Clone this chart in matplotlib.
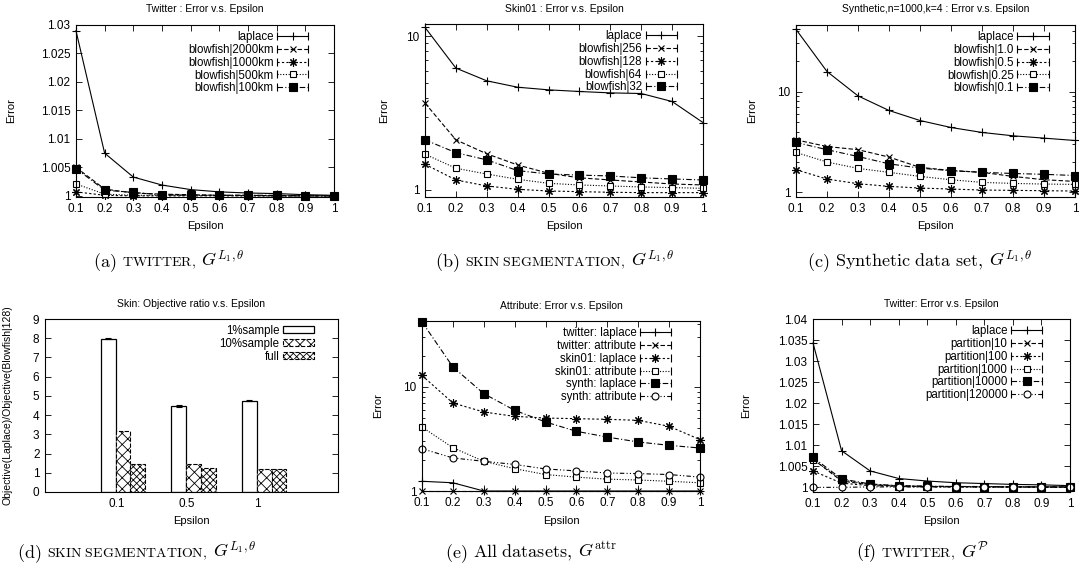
import numpy as np
import matplotlib
matplotlib.use('Agg')
import matplotlib.pyplot as plt
from matplotlib.lines import Line2D
from matplotlib.legend_handler import HandlerLine2D
from matplotlib.ticker import FormatStrFormatter, NullFormatter
from matplotlib.offsetbox import TextArea, HPacker, AnnotationBbox

plt.rcParams['font.family'] = ['Liberation Sans', 'DejaVu Sans']
plt.rcParams['mathtext.fontset'] = 'cm'
plt.rcParams['hatch.linewidth'] = 0.6

eps = [0.1, 0.2, 0.3, 0.4, 0.5, 0.6, 0.7, 0.8, 0.9, 1.0]

# (a) twitter, blowfish
tw_labels = ['laplace', 'blowfish|2000km', 'blowfish|1000km', 'blowfish|500km', 'blowfish|100km']
tw_laplace = [1.0290, 1.0075, 1.0033, 1.0019, 1.0011, 1.0007, 1.0005, 1.0004, 1.0002, 1.0001]
tw_2000 = [1.0050, 1.0012, 1.0005, 1.0003, 1.0002, 1.0001, 1.0001, 1.0000, 1.0000, 1.0000]
tw_1000 = [1.0007, 1.0001, 1.0000, 1.0000, 1.0000, 1.0000, 1.0000, 1.0000, 1.0000, 1.0000]
tw_500 = [1.0021, 1.0003, 1.0001, 1.0001, 1.0001, 1.0001, 1.0000, 1.0000, 1.0000, 1.0000]
tw_100 = [1.0048, 1.0010, 1.0006, 1.0002, 1.0001, 1.0001, 1.0001, 1.0001, 1.0000, 1.0000]

# (b) skin01, blowfish
sk_labels = ['laplace', 'blowfish|256', 'blowfish|128', 'blowfish|64', 'blowfish|32']
sk_laplace = [11.45, 6.22, 5.14, 4.67, 4.49, 4.38, 4.29, 4.25, 3.77, 2.75]
sk_256 = [3.68, 2.12, 1.72, 1.455, 1.284, 1.20, 1.162, 1.127, 1.094, 1.078]
sk_128 = [1.47, 1.162, 1.062, 1.01, 0.985, 0.975, 0.966, 0.961, 0.961, 0.961]
sk_64 = [1.71, 1.385, 1.27, 1.174, 1.105, 1.078, 1.062, 1.046, 1.036, 1.025]
sk_32 = [2.12, 1.75, 1.57, 1.337, 1.27, 1.25, 1.234, 1.20, 1.18, 1.162]

# (c) synthetic, blowfish
sy_labels = ['laplace', 'blowfish|1.0', 'blowfish|0.5', 'blowfish|0.25', 'blowfish|0.1']
sy_laplace = [41.4, 15.8, 9.06, 6.49, 5.16, 4.40, 3.93, 3.64, 3.45, 3.27]
sy_10 = [3.32, 2.85, 2.65, 2.24, 1.77, 1.65, 1.58, 1.44, 1.335, 1.285]
sy_05 = [1.68, 1.355, 1.219, 1.147, 1.104, 1.079, 1.055, 1.047, 1.039, 1.031]
sy_025 = [2.49, 2.00, 1.73, 1.58, 1.44, 1.335, 1.256, 1.228, 1.209, 1.20]
sy_01 = [3.13, 2.65, 2.27, 1.92, 1.74, 1.64, 1.58, 1.54, 1.51, 1.47]

# (d) skin, objective ratio
bar_eps = ['0.1', '0.5', '1']
bar_labels = ['1%sample', '10%sample', 'full']
bar_1pct = [7.98, 4.49, 4.74]
bar_1pct_err = [0.02, 0.05, 0.02]
bar_10pct = [3.17, 1.43, 1.18]
bar_full = [1.43, 1.25, 1.18]

# (e) all datasets, attribute
at_labels = ['twitter: laplace', 'twitter: attribute', 'skin01: laplace',
             'skin01: attribute', 'synth: laplace', 'synth: attribute']
at_tw_laplace = [1.24, 1.20, 1.0, 1.0, 1.0, 1.0, 1.0, 1.0, 1.0, 1.0]
at_tw_attr = [1.0, 1.0, 1.0, 1.0, 1.0, 1.0, 1.0, 1.0, 1.0, 1.0]
at_sk_laplace = [12.9, 7.02, 5.75, 5.22, 5.03, 4.96, 4.89, 4.78, 4.19, 3.12]
at_sk_attr = [4.12, 2.61, 1.93, 1.64, 1.44, 1.36, 1.30, 1.276, 1.24, 1.20]
at_sy_laplace = [42.2, 15.6, 8.63, 5.97, 4.61, 3.75, 3.30, 2.96, 2.75, 2.59]
at_sy_attr = [2.55, 2.08, 1.93, 1.80, 1.63, 1.56, 1.49, 1.47, 1.44, 1.36]

# (f) twitter, partition
pt_labels = ['laplace', 'partition|10', 'partition|100', 'partition|1000',
             'partition|10000', 'partition|120000']
pt_laplace = [1.0343, 1.0087, 1.0039, 1.0021, 1.0015, 1.0011, 1.0009, 1.0007, 1.0006, 1.0004]
pt_10 = [1.0067, 1.0015, 1.0006, 1.0003, 1.0002, 1.0002, 1.0001, 1.0001, 1.0001, 1.0001]
pt_100 = [1.0039, 1.0010, 1.0004, 1.0002, 1.0001, 1.0001, 1.0001, 1.0001, 1.0000, 1.0000]
pt_1000 = [1.0066, 1.0018, 1.0007, 1.0004, 1.0002, 1.0002, 1.0001, 1.0001, 1.0001, 1.0001]
pt_10000 = [1.0071, 1.0020, 1.0008, 1.0004, 1.0003, 1.0002, 1.0002, 1.0001, 1.0001, 1.0001]
pt_120000 = [1.0000, 1.0000, 1.0001, 1.0001, 1.0001, 1.0001, 1.0001, 1.0001, 1.0001, 1.0001]

# gnuplot-like line types
STYLES = [
    dict(ls='-', marker='+', ms=6, mfc='black'),
    dict(ls=(0, (4, 2)), marker='x', ms=5, mfc='black'),
    dict(ls=(0, (2, 2)), marker=(8, 2, 0), ms=6, mfc='black'),
    dict(ls=(0, (1, 1.5)), marker='s', ms=5, mfc='white'),
    dict(ls=(0, (5, 2, 1, 2)), marker='s', ms=6, mfc='black'),
    dict(ls=(0, (4, 2, 1, 2, 1, 2)), marker='o', ms=5, mfc='white'),
]


class CapHandler(HandlerLine2D):
    # legend sample with end caps like gnuplot's errorlines
    def create_artists(self, legend, orig_handle, xdescent, ydescent, width, height, fontsize, trans):
        arts = super().create_artists(legend, orig_handle, xdescent, ydescent, width, height, fontsize, trans)
        y = (height - ydescent) / 2
        caps = Line2D([-xdescent, -xdescent + width], [y, y], ls='none', marker='|',
                      ms=6, mew=0.8, color='black')
        caps.set_transform(trans)
        return arts + [caps]


fig = plt.figure(figsize=(10.79, 5.72), dpi=100)

LEG = dict(loc='upper right', frameon=False, fontsize=8.3, markerfirst=False, handlelength=2.7,
           handletextpad=0.3, labelspacing=0.08, borderpad=0.3, borderaxespad=0.2)


def style_axes(ax, title, ylabel, ylab_x):
    ax.set_title(title, fontsize=7.5, pad=9)
    ax.set_xlabel('Epsilon', fontsize=8, labelpad=5)
    ax.set_ylabel(ylabel, fontsize=8)
    ax.yaxis.set_label_coords(ylab_x, 0.5)
    ax.tick_params(which='both', direction='in', top=True, right=True, width=0.6, labelsize=8.5, pad=4)
    ax.tick_params(which='major', length=4)
    ax.tick_params(which='minor', length=2.5)
    for s in ax.spines.values():
        s.set_linewidth(0.8)


def line_panel(rect, title, labels, series, ylim, ylab_x, leg_x, log=False, yticks=None):
    ax = fig.add_axes(rect)
    for i, (lab, ys) in enumerate(zip(labels, series)):
        ax.plot(eps, ys, color='black', lw=0.8, mew=0.8, label=lab, clip_on=False, **STYLES[i])
    ax.set_xlim(0.1, 1.0)
    ax.set_xticks(eps)
    ax.xaxis.set_major_formatter(FormatStrFormatter('%g'))
    if log:
        ax.set_yscale('log')
        ax.yaxis.set_major_formatter(FormatStrFormatter('%g'))
        ax.yaxis.set_minor_formatter(NullFormatter())
    else:
        ax.set_yticks(yticks)
        ax.yaxis.set_major_formatter(FormatStrFormatter('%g'))
    ax.set_ylim(*ylim)
    style_axes(ax, title, 'Error', ylab_x)
    ax.legend(bbox_to_anchor=(leg_x, 1.0), numpoints=1, handler_map={Line2D: CapHandler()}, **LEG)
    return ax


# top row
line_panel([0.0704, 0.6556, 0.2391, 0.3007], 'Twitter : Error v.s. Epsilon', tw_labels,
           [tw_laplace, tw_2000, tw_1000, tw_500, tw_100], (0.9998, 1.03), -0.23, 0.922,
           yticks=np.arange(1.0, 1.0301, 0.005))
line_panel([0.3939, 0.6556, 0.2576, 0.3024], 'Skin01 : Error v.s. Epsilon', sk_labels,
           [sk_laplace, sk_256, sk_128, sk_64, sk_32], (0.9, 12.05), -0.13, 0.926, log=True)
line_panel([0.7377, 0.6556, 0.2586, 0.3007], 'Synthetic,n=1000,k=4 : Error v.s. Epsilon', sy_labels,
           [sy_laplace, sy_10, sy_05, sy_025, sy_01], (0.9, 45.7), -0.14, 0.926, log=True)

# (d) bars
axd = fig.add_axes([0.0417, 0.1399, 0.2715, 0.3024])
gx = np.arange(len(bar_eps))
w = 0.21
axd.bar(gx - 0.115, bar_1pct, w, yerr=bar_1pct_err, capsize=2, facecolor='white',
        edgecolor='black', lw=0.9, error_kw=dict(lw=0.8, capthick=0.8), label=bar_labels[0])
axd.bar(gx + 0.095, bar_10pct, w, facecolor='white', edgecolor='black', lw=0.8,
        ls='--', hatch='xxx', label=bar_labels[1])
axd.bar(gx + 0.305, bar_full, w, facecolor='white', edgecolor='black', lw=0.8,
        ls='--', hatch='xxxxx', label=bar_labels[2])
axd.set_xlim(-1.01, 3.14)
axd.set_ylim(0, 9)
axd.set_xticks(gx)
axd.set_xticklabels(bar_eps)
axd.set_yticks(range(10))
style_axes(axd, 'Skin: Objective ratio v.s. Epsilon', 'Objective(Laplace)/Objective(Blowfish|128)', -0.11)
axd.yaxis.label.set_fontsize(7.5)
axd.tick_params(axis='x', length=0, top=False)
axd.legend(bbox_to_anchor=(0.938, 1.0), handleheight=0.6, **LEG)

# (e) attribute
line_panel([0.3911, 0.1416, 0.2576, 0.2972], 'Attribute: Error v.s. Epsilon', at_labels,
           [at_tw_laplace, at_tw_attr, at_sk_laplace, at_sk_attr, at_sy_laplace, at_sy_attr],
           (1.0, 43.1), -0.14, 0.916, log=True)

# (f) partition
line_panel([0.7535, 0.1399, 0.2382, 0.3024], 'Twitter: Error v.s. Epsilon', pt_labels,
           [pt_laplace, pt_10, pt_100, pt_1000, pt_10000, pt_120000], (0.9989, 1.04), -0.24, 0.914,
           yticks=np.arange(1.0, 1.0401, 0.005))


# captions, small caps faked with a smaller size
def caption(xc, yc, parts):
    boxes = [TextArea(s, textprops=dict(fontsize=sz)) for s, sz in parts]
    pack = HPacker(children=boxes, align='baseline', pad=0, sep=4)
    ab = AnnotationBbox(pack, (xc, yc), xycoords='figure pixels', frameon=False,
                        box_alignment=(0.5, 0.5))
    fig.add_artist(ab)


H = 572
caption(169, H - 262, [(r'$\mathrm{(a)}$', 13), (r'$\mathrm{TWITTER,}$', 10), (r'$G^{L_1,\theta}$', 13)])
caption(555, H - 262, [(r'$\mathrm{(b)}$', 13), (r'$\mathrm{SKIN\ SEGMENTATION,}$', 10), (r'$G^{L_1,\theta}$', 13)])
caption(920, H - 262, [(r'$\mathrm{(c)}$', 13), (r'$\mathrm{Synthetic\ data\ set,}$', 13), (r'$G^{L_1,\theta}$', 13)])
caption(137, H - 553, [(r'$\mathrm{(d)}$', 13), (r'$\mathrm{SKIN\ SEGMENTATION,}$', 10), (r'$G^{L_1,\theta}$', 13)])
caption(531, H - 553, [(r'$\mathrm{(e)}$', 13), (r'$\mathrm{All\ datasets,}$', 13), (r'$G^{\mathrm{attr}}$', 13)])
caption(922, H - 553, [(r'$\mathrm{(f)}$', 13), (r'$\mathrm{TWITTER,}$', 10), (r'$G^{\mathcal{P}}$', 13)])

fig.savefig('out.png', dpi=100)
